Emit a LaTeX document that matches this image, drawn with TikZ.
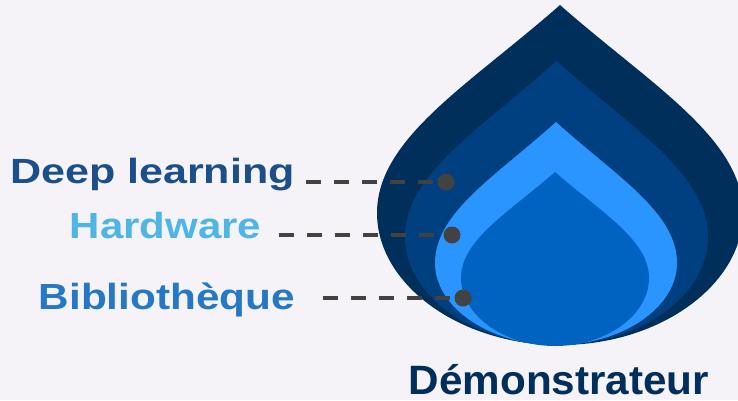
\documentclass[tikz,border=0pt]{standalone}
\usepackage{fontspec}
\setmainfont{Liberation Sans}
\usepackage{graphicx}
\definecolor{bgc}{HTML}{F5F3F7}
\definecolor{dropA}{HTML}{002F5B}
\definecolor{dropB}{HTML}{004080}
\definecolor{dropC}{HTML}{2B95FF}
\definecolor{dropD}{HTML}{0063C1}
\definecolor{dlc}{HTML}{1B4F8A}
\definecolor{hwc}{HTML}{4FB5E5}
\definecolor{bibc}{HTML}{2478C5}
\definecolor{democ}{HTML}{002F5B}
\definecolor{dotc}{HTML}{424242}
\newcommand{\mydrop}[6]{%
  \pgfmathsetmacro{\dropH}{#5-#3}%
  \pgfmathsetmacro{\dropB}{#6-#5}%
  \fill[#1] (#2,#3) .. controls ({#2-0.49*#4},{#3+0.38*\dropH}) and ({#2-#4},{#5-0.36*\dropH}) .. ({#2-#4},#5)
    .. controls ({#2-#4},{#5+0.54*\dropB}) and ({#2-0.55*#4},#6) .. (#2,#6)
    .. controls ({#2+0.55*#4},#6) and ({#2+#4},{#5+0.54*\dropB}) .. ({#2+#4},#5)
    .. controls ({#2+#4},{#5-0.36*\dropH}) and ({#2+0.49*#4},{#3+0.38*\dropH}) .. cycle;}
\tikzset{
  lbl/.style={anchor=base west, inner sep=0pt, font=\bfseries},
  dot/.style={circle, fill=dotc, minimum size=17pt, inner sep=0pt},
  dashln/.style={draw=dotc, line width=4pt, dash pattern=on 15pt off 13pt}
}
\begin{document}
\begin{tikzpicture}[x=1pt, y=-1pt]
\useasboundingbox (0,0) rectangle (738,400);
\fill[bgc] (0,0) rectangle (738,400);
\clip (0,0) rectangle (738,400);
\mydrop{dropA}{560}{5}{183}{213}{345}
\mydrop{dropB}{556.5}{61}{151.5}{237}{345}
\mydrop{dropC}{556}{122}{121}{263}{345}
\mydrop{dropD}{555}{172}{94}{278}{346}
\node[lbl, text=dlc] (dl) at (10,183.5) {\scalebox{1.23}[1]{\fontsize{35}{35}\selectfont Deep learning}};
\node[lbl, text=hwc] (hw) at (69.7,238.3) {\scalebox{1.157}[1]{\fontsize{36.3}{36.3}\selectfont Hardware}};
\node[lbl, text=bibc] (bib) at (38.7,309.3) {\scalebox{1.164}[1]{\fontsize{36.3}{36.3}\selectfont Bibliothèque}};
\node[lbl, text=democ] (demo) at (408.5,394.3) {\scalebox{1.03}[1]{\fontsize{41}{41}\selectfont Démonstrateur}};
\node[dot] (d1) at (446,182) {};
\node[dot] (d2) at (452,235) {};
\node[dot] (d3) at (463,298) {};
\coordinate (s1) at (306,182);
\coordinate (s2) at (279,235);
\coordinate (s3) at (323,298);
\draw[dashln] (s1) -- (d1);
\draw[dashln] (s2) -- (d2);
\draw[dashln] (s3) -- (d3);
\end{tikzpicture}
\end{document}
